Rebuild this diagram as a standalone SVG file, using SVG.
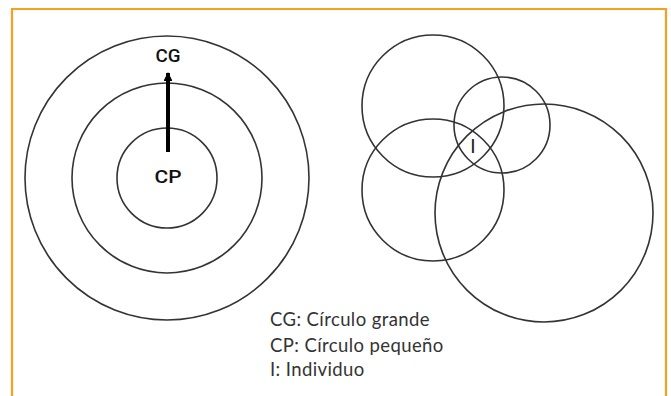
<svg xmlns="http://www.w3.org/2000/svg" width="671" height="396" viewBox="0 0 671 396">
<style>
.c{fill:none;stroke:#333;stroke-width:1.6}
.lbl{font-family:Roboto,"Liberation Sans",sans-serif;font-size:18px;font-weight:500;fill:#111;text-anchor:middle}
.leg{font-family:Lato,"Open Sans",sans-serif;font-size:18.5px;letter-spacing:0.4px;fill:#333}
</style>
<defs>
<marker id="ah" viewBox="0 0 10 10" refX="9" refY="5" markerWidth="2.4" markerHeight="2.2" orient="auto" markerUnits="strokeWidth">
<path d="M0,0 L10,5 L0,10 z" fill="#000"/>
</marker>
</defs>
<rect width="671" height="396" fill="#fff"/>
<path d="M12,400 V9 H666 V400" fill="none" stroke="#f5a020" stroke-width="2.2"/>
<g id="cg"><circle class="c" cx="167" cy="178" r="142"/><text class="lbl" x="168" y="62" textLength="25" lengthAdjust="spacingAndGlyphs">CG</text></g>
<g id="mid"><circle class="c" cx="167" cy="178" r="95"/></g>
<g id="cp"><circle class="c" cx="167" cy="178" r="50"/><text class="lbl" x="168" y="183" textLength="27" lengthAdjust="spacingAndGlyphs">CP</text></g>
<g id="a"><circle class="c" cx="433" cy="106" r="71"/></g>
<g id="b"><circle class="c" cx="502" cy="125" r="48"/></g>
<g id="c"><circle class="c" cx="433" cy="190" r="71"/></g>
<g id="d"><circle class="c" cx="544" cy="213" r="109"/></g>
<g id="i"><text x="473" y="153" style="font-family:Lato,sans-serif;font-size:19px;fill:#222;text-anchor:middle">I</text></g>
<g id="connectors"><line x1="168" y1="152" x2="168" y2="73" stroke="#000" stroke-width="4" marker-end="url(#ah)"/></g>
<g id="legend">
<text class="leg" x="270" y="326">CG: Círculo grande</text>
<text class="leg" x="270" y="352">CP: Círculo pequeño</text>
<text class="leg" x="270" y="376">I: Individuo</text>
</g>
</svg>
